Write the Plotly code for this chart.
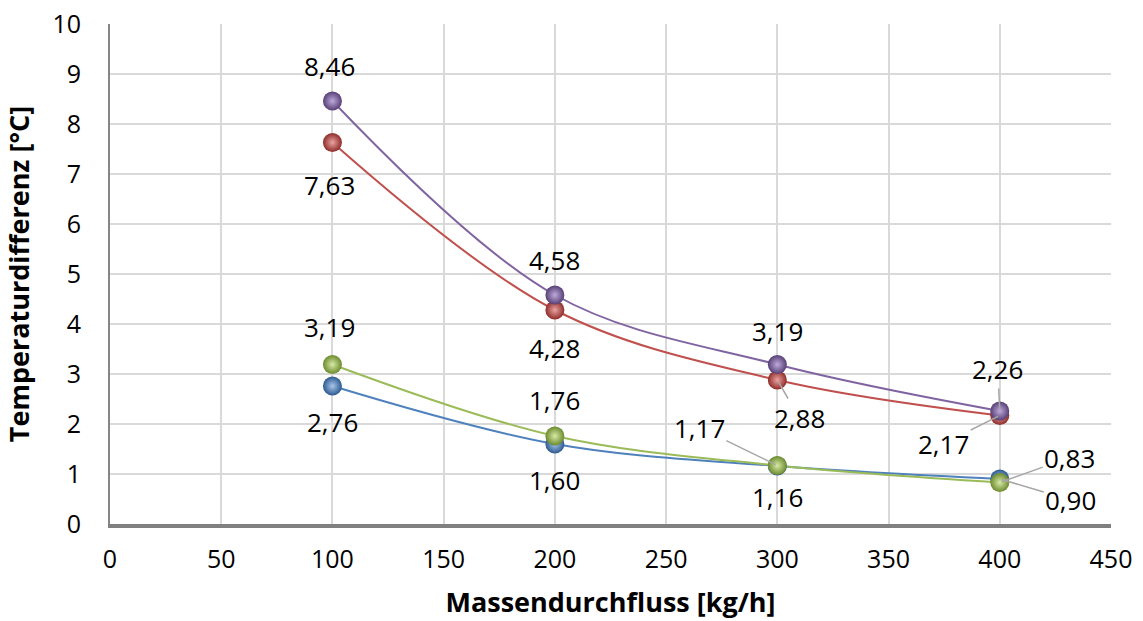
import plotly.graph_objects as go

x_vals = [100, 200, 300, 400]
purple = [8.46, 4.58, 3.19, 2.26]
red = [7.63, 4.28, 2.88, 2.17]
green = [3.19, 1.76, 1.17, 0.83]
blue = [2.76, 1.60, 1.16, 0.90]

x_ticks = [0, 50, 100, 150, 200, 250, 300, 350, 400, 450]
y_ticks = list(range(0, 11))

FONT = "Open Sans"
TICK = 25
LBL = 26
TITLE = 27

series = [
    ("blue", blue, "#4F81BD", "#2C5A8F", "#A9C6EC"),
    ("green", green, "#9BBB59", "#6C8A2E", "#D6EAA5"),
    ("red", red, "#C0504D", "#8E2C2A", "#EBA3A1"),
    ("purple", purple, "#8064A2", "#563F75", "#BFAADB"),
]

fig = go.Figure()
for name, vals, col, edge, center in series:
    fig.add_trace(go.Scatter(
        x=x_vals, y=vals, mode="lines", name=name,
        line=dict(color=col, width=2, shape="spline", smoothing=1.0),
        hoverinfo="skip", showlegend=False,
    ))
for name, vals, col, edge, center in series:
    fig.add_trace(go.Scatter(
        x=x_vals, y=vals, mode="markers", name=name,
        marker=dict(size=19, color=edge,
                    gradient=dict(type="radial", color=center),
                    line=dict(width=0)),
        showlegend=False,
    ))

def fmt(v):
    return f"{v:.2f}".replace(".", ",")

# label offsets (dx, dy in pixels; positive dy = downward), leader flag
offsets = {
    "purple": [(-3, -35, False), (0, -35, False), (0, -34, False), (-2, -42, True)],
    "red": [(-3, 42, False), (0, 38, False), (22, 38, True), (-56, 28, True)],
    "green": [(-3, -38, False), (0, -36, False), (-78, -38, True), (70, -25, True)],
    "blue": [(0, 36, False), (0, 36, False), (0, 31, False), (71, 21, True)],
}
data_map = {"purple": purple, "red": red, "green": green, "blue": blue}

annotations = []
for key, vals in data_map.items():
    for i, v in enumerate(vals):
        dx, dy, lead = offsets[key][i]
        if lead:
            annotations.append(dict(
                x=x_vals[i], y=v, xref="x", yref="y", text=fmt(v),
                showarrow=True, arrowhead=0, arrowwidth=1.5, arrowcolor="#A6A6A6",
                ax=dx, ay=dy, standoff=2,
                font=dict(family=FONT, size=LBL, color="#000000"),
            ))
        else:
            annotations.append(dict(
                x=x_vals[i], y=v, xref="x", yref="y", text=fmt(v),
                showarrow=False, xshift=dx, yshift=-dy,
                font=dict(family=FONT, size=LBL, color="#000000"),
            ))

fig.update_layout(
    width=1143, height=621,
    margin=dict(l=110, r=32, t=24, b=97),
    paper_bgcolor="white", plot_bgcolor="white",
    font=dict(family=FONT, size=TICK, color="#000000"),
    annotations=annotations,
    xaxis=dict(
        range=[0, 450], tickvals=x_ticks, ticktext=[str(t) for t in x_ticks],
        showgrid=True, gridcolor="#D9D9D9", gridwidth=2,
        showline=True, linecolor="#808080", linewidth=4,
        zeroline=False, ticks="", ticklabelstandoff=10, automargin=False,
        tickfont=dict(family=FONT, size=TICK, color="#000000"),
        title=dict(text="<b>Massendurchfluss [kg/h]</b>", standoff=20,
                   font=dict(family=FONT, size=TITLE, color="#000000")),
    ),
    yaxis=dict(
        range=[0, 10], tickvals=y_ticks, ticktext=[str(t) for t in y_ticks],
        showgrid=True, gridcolor="#D9D9D9", gridwidth=2,
        showline=True, linecolor="#868686", linewidth=2,
        zeroline=False, ticks="", ticklabelstandoff=22, automargin=False,
        tickfont=dict(family=FONT, size=TICK, color="#000000"),
        title=dict(text="<b>Temperaturdifferenz [°C]</b>", standoff=16,
                   font=dict(family=FONT, size=TITLE, color="#000000")),
    ),
)

fig.write_html("out.html")
